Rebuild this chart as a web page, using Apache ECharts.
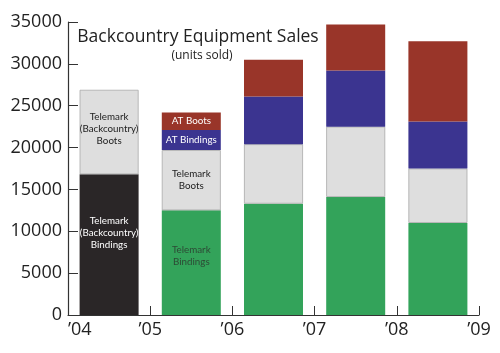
<!DOCTYPE html>
<html>
<head>
<meta charset="utf-8">
<script src="https://cdn.jsdelivr.net/npm/echarts@6/dist/echarts.min.js"></script>
<style>
  html, body { margin: 0; padding: 0; background: #fff; }
  #chart { width: 500px; height: 353px; }
</style>
</head>
<body>
<div id="chart"></div>
<script>
var years = ['2004', '2005', '2006', '2007', '2008'];
var yearTicks = [2004, 2005, 2006, 2007, 2008, 2009];
var telemarkBindings = [16800, 12500, 13300, 14100, 11000];
var telemarkBoots = [10100, 7200, 7100, 8400, 6500];
var atBindings = [0, 2400, 5700, 6700, 5600];
var atBoots = [0, 2100, 4400, 5500, 9600];

var FONT = 'Open Sans';

window.onload = function () {
    var chart = echarts.init(document.getElementById('chart'));

    var lbl = { fontFamily: 'Lato', fontSize: 9.8, lineHeight: 12, position: 'inside', overflow: 'none' };

    // per-bar labels, only some bars carry text
    function items(arr, labels, extra, colors) {
        return arr.map(function (v, i) {
            var d = { value: v };
            if (labels && labels[i]) {
                d.label = Object.assign({ show: true, formatter: labels[i] }, lbl, extra[i]);
            }
            if (colors) d.itemStyle = { color: colors[i] };
            return d;
        });
    }

    var option = {
        animation: false,
        grid: { left: 68, right: 21, top: 22, bottom: 38 },
        title: [
            { text: 'Backcountry Equipment Sales', left: 193, top: 23, textAlign: 'center',
              textStyle: { fontFamily: FONT, fontSize: 17.5, fontWeight: 'normal', color: '#222' } },
            { text: '(units sold)', left: 197, top: 45, textAlign: 'center',
              textStyle: { fontFamily: FONT, fontSize: 12, fontWeight: 'normal', color: '#222' } }
        ],
        xAxis: [
            {
                type: 'category', data: years, boundaryGap: true,
                axisLine: { show: true, lineStyle: { color: '#333', width: 1.2 } },
                axisTick: { show: true, inside: true, length: 9, lineStyle: { color: '#333' } },
                axisLabel: { show: false }
            },
            {
                type: 'value', min: yearTicks[0], max: yearTicks[yearTicks.length - 1], interval: 1,
                position: 'bottom',
                splitLine: { show: false },
                axisLine: { show: false },
                axisTick: { show: false },
                axisLabel: {
                    fontFamily: FONT, fontSize: 18, color: '#222', margin: 6,
                    alignMinLabel: 'left',
                    formatter: function (v) { return '\u2019' + String(v).slice(2); }
                }
            }
        ],
        yAxis: {
            type: 'value', min: 0, max: 35000, interval: 5000,
            splitLine: { show: false },
            axisLine: { show: true, lineStyle: { color: '#333', width: 1.2 } },
            axisTick: { show: true, inside: true, length: 10, lineStyle: { color: '#333' } },
            axisLabel: { fontFamily: FONT, fontSize: 18, color: '#222', margin: 6,
                         formatter: function (v) { return String(v); } }
        },
        series: [
            {
                name: 'Telemark Bindings', type: 'bar', stack: 's', barWidth: 59,
                itemStyle: { color: '#33a35a' },
                data: items(telemarkBindings,
                    ['Telemark\n(Backcountry)\nBindings', 'Telemark\nBindings'],
                    [{ color: '#fff', offset: [0, -12] }, { color: '#2d4a35', offset: [0, -7] }],
                    ['#2a2627', '#33a35a', '#33a35a', '#33a35a', '#33a35a'])
            },
            {
                name: 'Telemark Boots', type: 'bar', stack: 's', barWidth: 59,
                itemStyle: { color: '#dedede', borderColor: '#aaa', borderWidth: 0.8 },
                data: items(telemarkBoots,
                    ['Telemark\n(Backcountry)\nBoots', 'Telemark\nBoots'],
                    [{ color: '#222', offset: [0, -3] }, { color: '#222' }])
            },
            {
                name: 'AT Bindings', type: 'bar', stack: 's', barWidth: 59,
                itemStyle: { color: '#3b3490' },
                data: items(atBindings, [null, 'AT Bindings'], [null, { color: '#fff' }])
            },
            {
                name: 'AT Boots', type: 'bar', stack: 's', barWidth: 59,
                itemStyle: { color: '#993529' },
                data: items(atBoots, [null, 'AT Boots'], [null, { color: '#fff' }])
            }
        ]
    };

    chart.setOption(option);
};
</script>
</body>
</html>
